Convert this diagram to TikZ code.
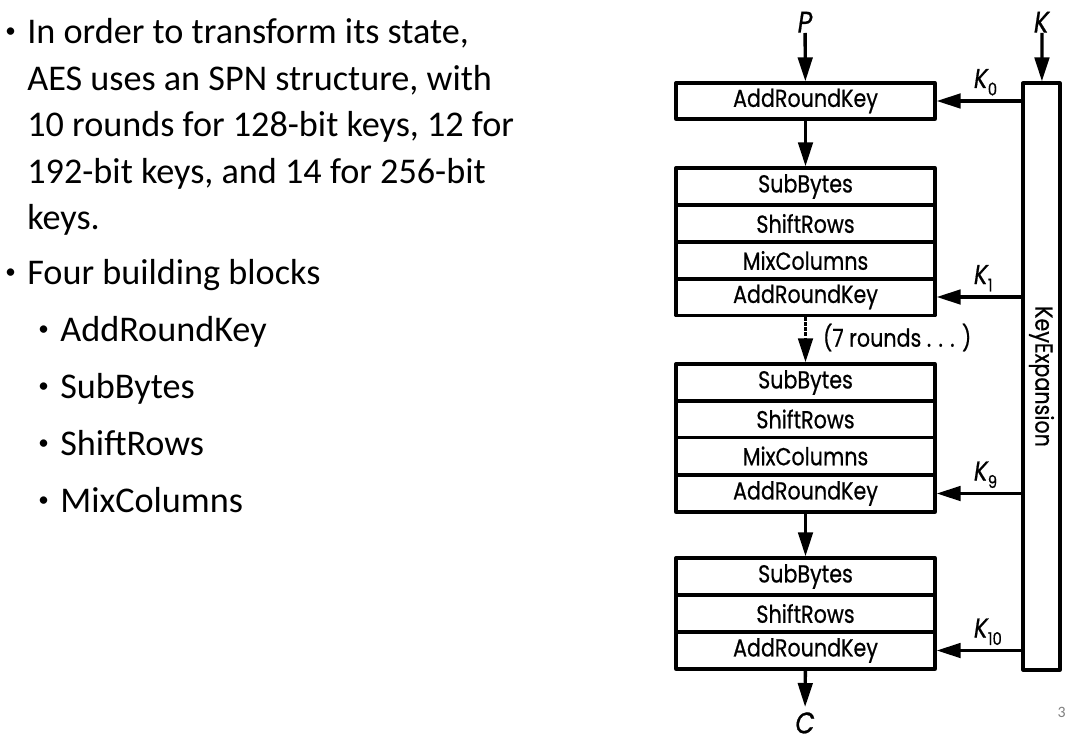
\documentclass[tikz,border=0pt]{standalone}
\usepackage{fontspec}
\setmainfont{Carlito}
\newfontfamily\futfont[FakeStretch=0.84,FakeBold=0.6]{Poppins}
\usetikzlibrary{arrows.meta,calc,positioning}

\newcommand{\rk}[1]{\textit{K}\kern-0.5pt\raisebox{-0.5ex}{\fontsize{10}{11}\selectfont #1}}
\newcommand{\dotmark}{{\fontsize{12}{12}\selectfont\raisebox{0.11cm}{\textbullet}}}
\tikzset{
	stage/.style={draw,line width=1.9pt,minimum width=5.18cm,minimum height=0.74cm,inner sep=0pt,font=\futfont\fontsize{14}{16}\selectfont},
	flow/.style={line width=1.9pt,-{Triangle[length=0.48cm,width=0.29cm]}},
	btext/.style={anchor=base west,inner sep=0pt,font=\fontsize{20.6}{25}\selectfont},
	io/.style={font=\futfont\fontsize{17}{19}\selectfont,inner sep=0pt}
}

\begin{document}
\begin{tikzpicture}[x=0.02cm,y=-0.02cm,line join=round]
		\useasboundingbox (0,0) rectangle (1067,743);
		% text on the left
		\node[btext] (b0) at (5,43.5) {\dotmark};
		\foreach \t [count=\i from 0] in {{In order to transform its state,},{AES uses an SPN structure, with},{10 rounds for 128-bit keys, 12 for},{192-bit keys, and 14 for 256-bit},{keys.}}{\node[btext] (l\i) at (27,{43.5+46.6*\i}) {\t};}
		\node[btext] (b1) at (5,284) {\dotmark};
		\node[btext] (four) at (27,284) {Four building blocks};
		\foreach \t [count=\i from 0] in {AddRoundKey,SubBytes,ShiftRows,MixColumns}{\node[btext] at (38,{341+57*\i}) {\dotmark}; \node[btext] (s\i) at (60,{341+57*\i}) {\t};}
		% rounds
		\node[stage,minimum height=0.72cm] (ark0) at (805.5,101) {AddRoundKey};
		\foreach \n/\t/\y in {sb1/SubBytes/186.5,sr1/ShiftRows/223.5,mc1/MixColumns/260.5,ark1/AddRoundKey/297,sb9/SubBytes/382.5,sr9/ShiftRows/419,mc9/MixColumns/456,ark9/AddRoundKey/493.5,sb10/SubBytes/576.5,sr10/ShiftRows/613.5,ark10/AddRoundKey/650.5}{\node[stage] (\n) at (805.5,\y) {\t};}
		\node[draw,line width=1.9pt,minimum width=0.74cm,minimum height=11.74cm,inner sep=0pt,font=\futfont\fontsize{14}{16}\selectfont] (kexp) at (1041.5,376.5) {\rotatebox{-90}{KeyExpansion}};
		\node[io,anchor=south] (P) at (805,33) {\textit{P}};
		\node[io,anchor=south] (K) at (1042,33) {\textit{K}};
		\node[io,anchor=north,text height=0.44cm,text depth=0pt] (C) at (805,711) {\textit{C}};
		\draw[flow] (P)--(ark0);
		\draw[flow] (K)--(kexp);
		\draw[flow] (ark0)--(sb1);
		\draw[flow,densely dotted] (ark1)--(sb9) node[pos=0.45,right=0.2cm,font=\futfont\fontsize{14}{16}\selectfont]{(7 rounds . . . )};
		\draw[flow] (ark9)--(sb10);
		\draw[flow,shorten >=0.08cm] (ark10)--(C);
		\foreach \n/\l in {ark0/0,ark1/1,ark9/9,ark10/10}{\draw[flow] (kexp.west |- \n)--(\n.east); \path (\n.east) ++(37,-13) node[anchor=base west,inner sep=0pt,font=\futfont\fontsize{15.5}{17}\selectfont]{\rk{\l}};}
		\node[anchor=east,inner sep=0pt,text=gray,font=\fontsize{9}{10}\selectfont] (pg) at (1066,712) {3};
		\end{tikzpicture}
\end{document}
